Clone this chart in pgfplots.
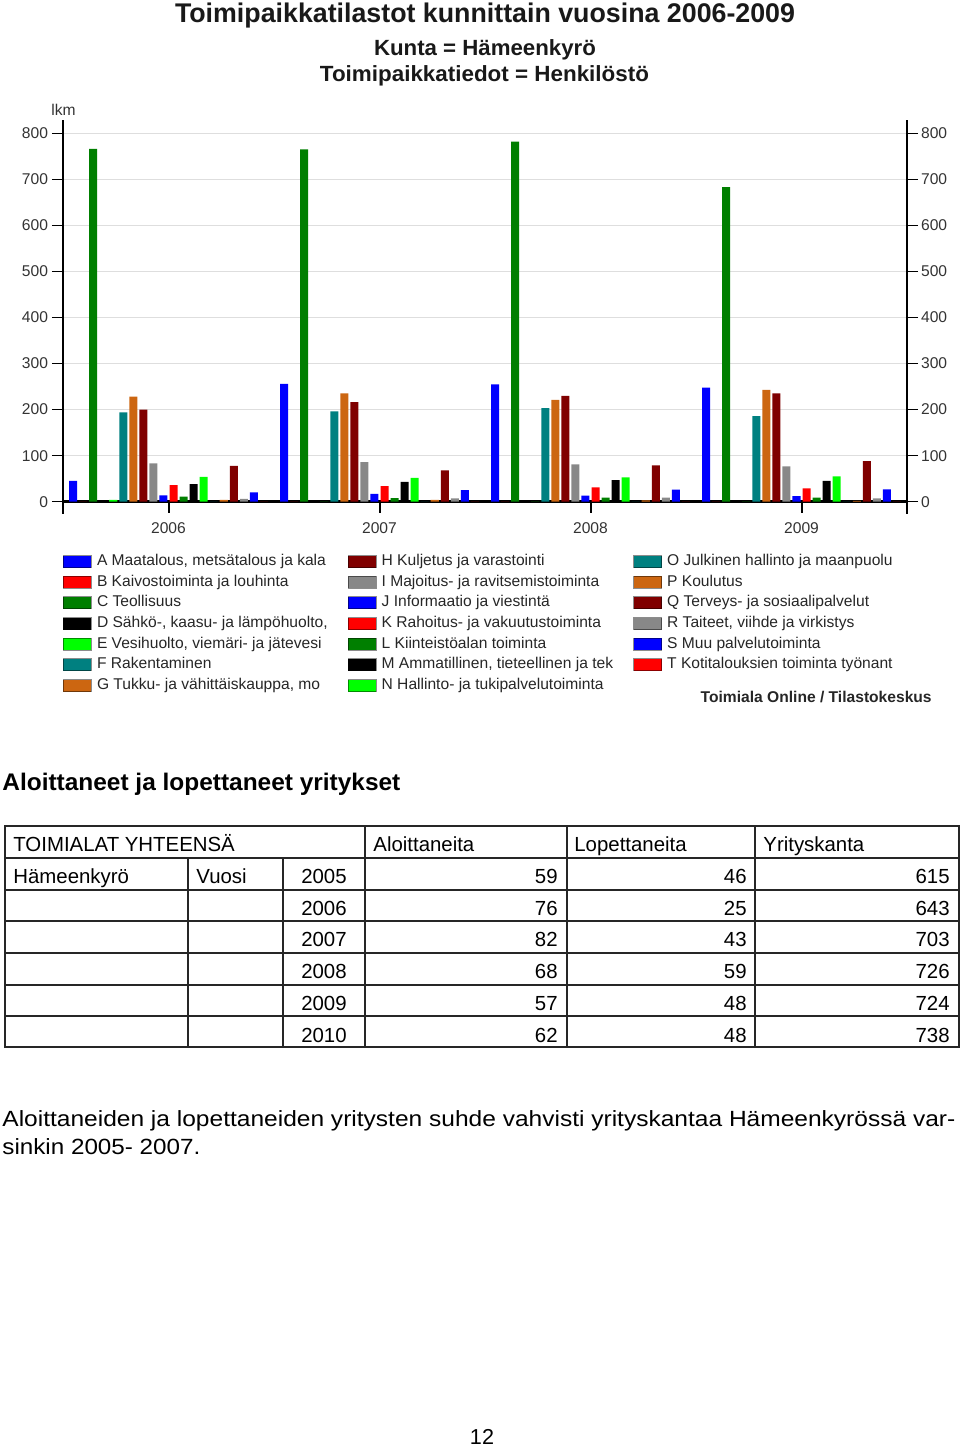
\documentclass[border=0pt]{standalone}
\usepackage{pgfplots}
\pgfplotsset{compat=1.18}
\usepackage{fontspec}
\setmainfont{Liberation Sans}
\usepackage{graphicx}

\definecolor{cBlue}{HTML}{0000FF}
\definecolor{cRed}{HTML}{FF0000}
\definecolor{cGreen}{HTML}{007F00}
\definecolor{cBlack}{HTML}{000000}
\definecolor{cLime}{HTML}{00FF00}
\definecolor{cTeal}{HTML}{008080}
\definecolor{cOrange}{HTML}{CC6611}
\definecolor{cDark}{HTML}{800000}
\definecolor{cGray}{HTML}{888888}

\newcommand{\fitw}[2]{\resizebox{#1}{\height}{#2}}
\newcommand{\sm}{\fontsize{7.8}{9}\selectfont}
\newcommand{\tf}{\fontsize{10.2}{12}\selectfont}

\pgfplotsset{
  bx/.style={ybar, bar width=0.8, bar shift=0pt, fill=#1, draw=none,
    legend image code/.code={\draw[##1, draw=black, draw opacity=0.45, line width=0.5pt] (0pt,-3pt) rectangle (14pt,3pt);}},
  frame/.style={
    at={(31.5pt,-250.85pt)}, anchor=south west,
    scale only axis, width=422pt, height=190.65pt,
    xmin=-1, xmax=83, ymin=0, ymax=830,
    axis line style={-, line width=1.25pt, black},
    y axis line style={shorten <=-6pt},
    ytick={0,100,...,800},
    tick align=outside, major tick length=5.5pt,
    tick label style={font=\sm, text=black!80},
    /pgf/number format/assume math mode=true,
  },
}

\begin{document}
\begin{tikzpicture}
\useasboundingbox (0,0) rectangle (480pt,-723pt);

\begin{axis}[frame,
  height=191.1pt,
  axis x line*=bottom, axis y line*=left,
  xtick={9.5,30.5,51.5,72.5}, xticklabels={2006,2007,2008,2009},
  x tick style={line width=1pt, black},
  y tick style={line width=0.5pt, black},
  yticklabel style={xshift=1.5pt},
  xticklabel style={yshift=-1.5pt},
  ymajorgrids, grid style={draw=black!13, line width=0.6pt},
  legend columns=7, transpose legend, legend cell align=left,
  legend style={at={(axis description cs:0,-0.138)}, anchor=north west,
    draw=none, fill=none, inner sep=0pt, outer sep=0pt, font=\sm, text=black!85,
    nodes={inner sep=0pt, text height=5.6pt, text depth=1.6pt},
    /tikz/every odd column/.append style={column sep=2.5pt},
    /tikz/every even column/.append style={column sep=10pt},
    row sep=3.13pt},
]
\addplot[bx=cBlue] coordinates {(0,45) (21,256) (42,255) (63,248)};
\addlegendentry{A Maatalous, metsätalous ja kala}
\addplot[bx=cRed] coordinates {(1,0) (22,0) (43,0) (64,0)};
\addlegendentry{B Kaivostoiminta ja louhinta}
\addplot[bx=cGreen] coordinates {(2,766) (23,765) (44,782) (65,683)};
\addlegendentry{C Teollisuus}
\addplot[bx=cBlack] coordinates {(3,0) (24,0) (45,0) (66,0)};
\addlegendentry{D Sähkö-, kaasu- ja lämpöhuolto,}
\addplot[bx=cLime] coordinates {(4,4) (25,0) (46,0) (67,0)};
\addlegendentry{E Vesihuolto, viemäri- ja jätevesi}
\addplot[bx=cTeal] coordinates {(5,194) (26,196) (47,203) (68,186)};
\addlegendentry{F Rakentaminen}
\addplot[bx=cOrange] coordinates {(6,228) (27,235) (48,221) (69,243)};
\addlegendentry{G Tukku- ja vähittäiskauppa, mo}
\addplot[bx=cDark] coordinates {(7,200) (28,216) (49,230) (70,235)};
\addlegendentry{H Kuljetus ja varastointi}
\addplot[bx=cGray] coordinates {(8,83) (29,86) (50,81) (71,77)};
\addlegendentry{I Majoitus- ja ravitsemistoiminta}
\addplot[bx=cBlue] coordinates {(9,14) (30,17) (51,13) (72,12)};
\addlegendentry{J Informaatio ja viestintä}
\addplot[bx=cRed] coordinates {(10,36) (31,34) (52,31) (73,29)};
\addlegendentry{K Rahoitus- ja vakuutustoiminta}
\addplot[bx=cGreen] coordinates {(11,11) (32,8) (53,9) (74,9)};
\addlegendentry{L Kiinteistöalan toiminta}
\addplot[bx=cBlack] coordinates {(12,38) (33,43) (54,47) (75,45)};
\addlegendentry{M Ammatillinen, tieteellinen ja tek}
\addplot[bx=cLime] coordinates {(13,54) (34,52) (55,53) (76,55)};
\addlegendentry{N Hallinto- ja tukipalvelutoiminta}
\addplot[bx=cTeal] coordinates {(14,0) (35,0) (56,0) (77,0)};
\addlegendentry{O Julkinen hallinto ja maanpuolu}
\addplot[bx=cOrange] coordinates {(15,4) (36,4) (57,3) (78,2)};
\addlegendentry{P Koulutus}
\addplot[bx=cDark] coordinates {(16,78) (37,68) (58,79) (79,88)};
\addlegendentry{Q Terveys- ja sosiaalipalvelut}
\addplot[bx=cGray] coordinates {(17,6) (38,7) (59,9) (80,7)};
\addlegendentry{R Taiteet, viihde ja virkistys}
\addplot[bx=cBlue] coordinates {(18,20) (39,25) (60,26) (81,27)};
\addlegendentry{S Muu palvelutoiminta}
\addplot[bx=cRed] coordinates {(19,0) (40,0) (61,0) (82,0)};
\addlegendentry{T Kotitalouksien toiminta työnant}
\end{axis}

\begin{axis}[frame,
  height=191.1pt,
  axis y line*=right, axis x line=none,
  y tick style={line width=0.5pt, black},
  yticklabel style={xshift=-2pt},
]
\end{axis}

\begin{scope}[x=0.5pt,y=-0.5pt]
% titles
\node[anchor=base, inner sep=0pt, font=\bfseries\fontsize{13.5}{15}\selectfont, text=black!90]
  at (485,22.7) {\fitw{310pt}{Toimipaikkatilastot kunnittain vuosina 2006-2009}};
\node[anchor=base, inner sep=0pt, font=\bfseries\fontsize{11}{13}\selectfont, text=black!90]
  at (485,55) {\fitw{111pt}{Kunta = Hämeenkyrö}};
\node[anchor=base, inner sep=0pt, font=\bfseries\fontsize{11}{13}\selectfont, text=black!90]
  at (484.5,81.7) {\fitw{164.5pt}{Toimipaikkatiedot = Henkilöstö}};
\node[anchor=base west, inner sep=0pt, font=\sm, text=black!80] at (51,115.7) {lkm};
\node[anchor=base east, inner sep=0pt, font=\bfseries\sm, text=black!85] at (932,702) {Toimiala Online / Tilastokeskus};

% heading
\node[anchor=base west, inner sep=0pt, font=\bfseries\fontsize{12}{14}\selectfont]
  at (2,790.7) {\fitw{199pt}{Aloittaneet ja lopettaneet yritykset}};

% table
\begin{scope}[line width=0.6pt, draw=black!85]
\draw (5,826) rectangle (959,1047);
\foreach \y in {858,890,921,953,985,1016} \draw (5,\y) -- (959,\y);
\foreach \x in {365,567,755} \draw (\x,826) -- (\x,1047);
\foreach \x in {188,283} \draw (\x,858) -- (\x,1047);
\end{scope}
\begin{scope}[every node/.style={inner sep=0pt, font=\tf}]
\node[anchor=base west] at (13,851) {TOIMIALAT YHTEENSÄ};
\node[anchor=base west] at (373,851) {Aloittaneita};
\node[anchor=base west] at (574,851) {Lopettaneita};
\node[anchor=base west] at (763,851) {Yrityskanta};
\node[anchor=base west] at (13,883) {Hämeenkyrö};
\node[anchor=base west] at (196,883) {Vuosi};
\foreach \yb/\yr/\a/\l/\k in {883/2005/59/46/615, 915/2006/76/25/643, 946/2007/82/43/703,
    978/2008/68/59/726, 1010/2009/57/48/724, 1042/2010/62/48/738} {
  \node[anchor=base] at (324,\yb) {\yr};
  \node[anchor=base east] at (558,\yb) {\a};
  \node[anchor=base east] at (747,\yb) {\l};
  \node[anchor=base east] at (950,\yb) {\k};
}
\end{scope}

% paragraph
\node[anchor=base west, inner sep=0pt, font=\fontsize{11}{13}\selectfont]
  at (2,1126) {\fitw{476.5pt}{Aloittaneiden ja lopettaneiden yritysten suhde vahvisti yrityskantaa Hämeenkyrössä var-}};
\node[anchor=base west, inner sep=0pt, font=\fontsize{11}{13}\selectfont]
  at (2,1154) {\fitw{99pt}{sinkin 2005- 2007.}};

% page number
\node[anchor=base, inner sep=0pt, font=\fontsize{10.8}{12}\selectfont] at (482,1444) {12};
\end{scope}
\end{tikzpicture}
\end{document}
